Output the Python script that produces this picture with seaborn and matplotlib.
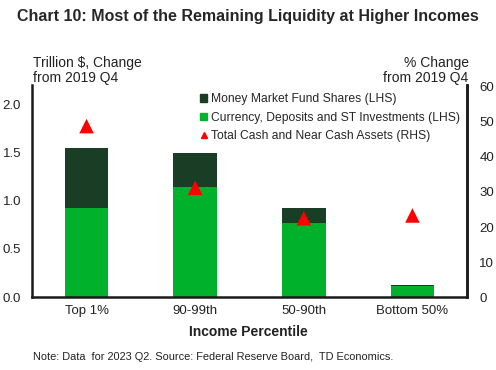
import pandas as pd
import seaborn as sns
import matplotlib.pyplot as plt
from matplotlib.lines import Line2D

categories = ["Top 1%", "90-99th", "50-90th", "Bottom 50%"]
currency = [0.92, 1.14, 0.765, 0.115]
money_market = [0.63, 0.36, 0.155, 0.009]
total_pct = [48.8, 31.2, 22.5, 23.3]

dark_green = "#1a3d25"
bright_green = "#00b22b"

df = pd.DataFrame({
    "cat": categories,
    "currency": currency,
    "total": [c + m for c, m in zip(currency, money_market)],
    "pct": total_pct,
})

sns.set_style("white")
plt.rcParams["font.family"] = ["Liberation Sans", "DejaVu Sans"]

fig = plt.figure(figsize=(4.96, 3.70), dpi=100)
ax = fig.add_axes([0.065, 0.197, 0.876, 0.573])

sns.barplot(data=df, x="cat", y="total", color=dark_green, width=0.4,
            saturation=1, linewidth=0, ax=ax)
sns.barplot(data=df, x="cat", y="currency", color=bright_green, width=0.4,
            saturation=1, linewidth=0, ax=ax)

ax2 = ax.twinx()
sns.scatterplot(data=df, x="cat", y="pct", marker="^", color="red",
                s=110, edgecolor="none", ax=ax2, zorder=5)

ax.set_xlim(-0.5, 3.5)
ax.set_ylim(0, 2.2)
ax.set_yticks([0, 0.5, 1.0, 1.5, 2.0])
ax.set_yticklabels(["0.0", "0.5", "1.0", "1.5", "2.0"])
ax2.set_ylim(0, 60.5)
ax2.set_yticks(range(0, 61, 10))

for a in (ax, ax2):
    a.set_xlabel("")
    a.set_ylabel("")
    a.spines["top"].set_visible(False)
    for s in ("left", "right", "bottom"):
        a.spines[s].set_color("#1a1a1a")
        a.spines[s].set_linewidth(1.8)
    a.tick_params(length=0, labelsize=9.5, colors="#222222")
ax.tick_params(axis="x", pad=6)
ax.tick_params(axis="y", pad=8)
ax2.tick_params(axis="y", pad=9)
ax2.spines["left"].set_visible(False)
ax2.spines["bottom"].set_visible(False)

handles = [
    plt.Rectangle((0, 0), 1, 1, color=dark_green),
    plt.Rectangle((0, 0), 1, 1, color=bright_green),
    Line2D([], [], marker="^", color="red", linestyle="none", markersize=5),
]
labels = ["Money Market Fund Shares (LHS)",
          "Currency, Deposits and ST Investments (LHS)",
          "Total Cash and Near Cash Assets (RHS)"]
ax.legend(handles, labels, loc="upper left", bbox_to_anchor=(0.375, 0.985),
          frameon=False, fontsize=8.7, handlelength=0.6, handleheight=0.6,
          handletextpad=0.3, labelspacing=0.55, borderaxespad=0)

fig.text(0.5, 0.955, "Chart 10: Most of the Remaining Liquidity at Higher Incomes",
         ha="center", va="center", fontsize=11.5, fontweight="bold")
fig.text(0.066, 0.81, "Trillion $, Change\nfrom 2019 Q4", ha="left",
         va="center", fontsize=10, color="#222222", linespacing=1.1)
fig.text(0.945, 0.81, "% Change\nfrom 2019 Q4", ha="right",
         va="center", fontsize=10, color="#222222", linespacing=1.1)
fig.text(0.5, 0.103, "Income Percentile", ha="center", va="center",
         fontsize=10, fontweight="bold", color="#222222")
fig.text(0.066, 0.035,
         "Note: Data  for 2023 Q2. Source: Federal Reserve Board,  TD Economics.",
         ha="left", va="center", fontsize=7.9, color="#222222")

fig.savefig("out.png", dpi=100)
